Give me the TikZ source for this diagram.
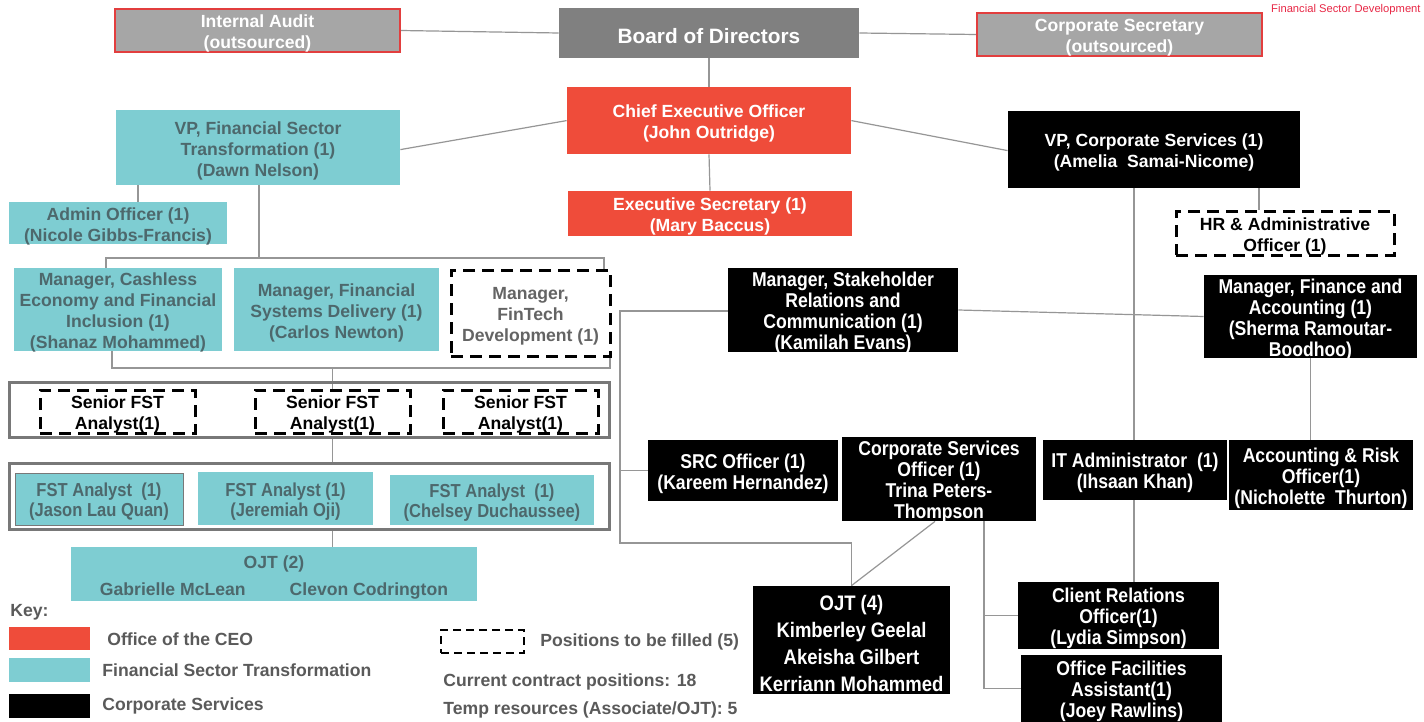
\documentclass[tikz,border=0pt]{standalone}
\usepackage{fontspec}
\setmainfont{Liberation Sans}
\newfontfamily\narrowf{Liberation Sans}[FakeStretch=0.88]
\usetikzlibrary{calc,backgrounds}
\definecolor{cred}{RGB}{239,76,58}
\definecolor{cteal}{RGB}{126,205,210}
\definecolor{ctealtxt}{RGB}{77,104,108}
\definecolor{cboard}{RGB}{128,128,128}
\definecolor{cout}{RGB}{166,166,166}
\definecolor{coutline}{RGB}{226,62,62}
\definecolor{cline}{RGB}{150,150,150}
\definecolor{cgrp}{RGB}{120,120,120}
\definecolor{ckey}{RGB}{90,90,90}
\definecolor{cfin}{RGB}{100,100,100}
\definecolor{cfsd}{RGB}{232,40,70}
\tikzset{
  base/.style={inner sep=0pt, align=center, font=\bfseries\fontsize{8.8pt}{10.5pt}\selectfont},
  redbox/.style={base, fill=cred, text=white},
  tealbox/.style={base, fill=cteal, text=ctealtxt},
  blkbox/.style={base, fill=black, text=white},
  narrowtxt/.style={font=\narrowf\bfseries\fontsize{10pt}{10.5pt}\selectfont},
  fsttxt/.style={font=\narrowf\bfseries\fontsize{9.4pt}{10pt}\selectfont},
  outbox/.style={base, fill=cout, draw=coutline, line width=0.8pt, text=white},
  dashbox/.style={base, draw=black, line width=1.5pt, dash pattern=on 6pt off 3.5pt},
  grpbox/.style={draw=cgrp, line width=1.5pt, inner sep=0pt},
  conn/.style={draw=cline, line width=0.6pt},
  keytxt/.style={anchor=west, inner sep=0pt, text=ckey, font=\bfseries\fontsize{8.8pt}{10.5pt}\selectfont},
}
% box #1 from (#2,#3) to (#4,#5), style #6, text #7 (text set 3px lower than the box centre)
\newcommand\orgbox[7]{%
  \node[#6, minimum width={(#4-#2)*0.5pt}, minimum height={(#5-#3)*0.5pt}] (#1) at ({(#2+#4)/2},{(#3+#5)/2}) {};
  \node[#6, draw=none, fill=none] (#1-t) at ({(#2+#4)/2},{(#3+#5)/2+3}) {#7};}
\begin{document}
\begin{tikzpicture}[x=0.5pt,y=-0.5pt]
\useasboundingbox (0,0) rectangle (1424,722);
% top
\orgbox{bod}{559}{8}{859}{58}{base, fill=cboard, text=white, font=\bfseries\fontsize{10.4pt}{12pt}\selectfont}{Board of Directors}
\orgbox{ia}{115}{9}{400}{52}{outbox}{Internal Audit\\(outsourced)}
\orgbox{cs}{977}{13}{1262}{56}{outbox}{Corporate Secretary\\(outsourced)}
\node[anchor=north east, inner sep=0pt, text=cfsd, font=\fontsize{5.6pt}{6pt}\selectfont] (fsd) at (1421,4) {Financial Sector Development};
\orgbox{ceo}{567}{87}{851}{154}{redbox}{Chief Executive Officer\\(John Outridge)}
\orgbox{es}{568}{191}{852}{236}{redbox}{Executive Secretary (1)\\(Mary Baccus)}
\orgbox{vpfst}{116}{110}{400}{185}{tealbox}{VP, Financial Sector\\Transformation (1)\\(Dawn Nelson)}
\orgbox{vpcs}{1008}{111}{1300}{188}{blkbox}{VP, Corporate Services (1)\\(Amelia\ \ Samai-Nicome)}
\orgbox{admin}{9}{202}{227}{244}{tealbox}{Admin Officer (1)\\(Nicole Gibbs-Francis)}
\orgbox{hr}{1176}{211}{1394}{255}{dashbox}{HR \& Administrative\\Officer (1)}
% FST managers
\orgbox{mgrc}{14}{268}{222}{351}{tealbox}{Manager, Cashless\\Economy and Financial\\Inclusion (1)\\(Shanaz Mohammed)}
\orgbox{mgrf}{234}{268}{439}{351}{tealbox}{Manager, Financial\\Systems Delivery (1)\\(Carlos Newton)}
\orgbox{fintech}{451}{270}{610}{356}{dashbox, text=cfin}{Manager,\\FinTech\\Development (1)}
% CS managers
\orgbox{stk}{728}{268}{958}{352}{blkbox,narrowtxt}{Manager, Stakeholder\\Relations and\\Communication (1)\\(Kamilah Evans)}
\orgbox{fin}{1204}{275}{1417}{358}{blkbox,narrowtxt}{Manager, Finance and\\Accounting (1)\\(Sherma Ramoutar-\\Boodhoo)}
% senior analysts
\orgbox{sengrp}{9}{382}{609}{437}{grpbox}{}
\orgbox{sen1}{40}{390}{195}{433}{dashbox}{Senior FST\\Analyst(1)}
\orgbox{sen2}{255}{390}{410}{433}{dashbox}{Senior FST\\Analyst(1)}
\orgbox{sen3}{443}{390}{598}{433}{dashbox}{Senior FST\\Analyst(1)}
% CS officers
\orgbox{src}{648}{440}{838}{501}{blkbox,narrowtxt}{SRC Officer (1)\\(Kareem Hernandez)}
\orgbox{cso}{842}{437}{1036}{521}{blkbox,narrowtxt}{Corporate Services\\Officer (1)\\Trina Peters-\\Thompson}
\orgbox{ita}{1043}{440}{1227}{500}{blkbox,narrowtxt}{IT Administrator\ \ (1)\\(Ihsaan Khan)}
\orgbox{ars}{1229}{440}{1413}{510}{blkbox,narrowtxt}{Accounting \& Risk\\Officer(1)\\(Nicholette\ \ Thurton)}
% FST analysts
\orgbox{fstgrp}{9}{463}{609}{529}{grpbox}{}
\orgbox{fa1}{15}{473}{183}{525}{tealbox, fsttxt, draw=cgrp, line width=0.5pt}{FST Analyst\ \ (1)\\(Jason Lau Quan)}
\orgbox{fa2}{198}{472}{373}{525}{tealbox, fsttxt}{FST Analyst (1)\\(Jeremiah Oji)}
\orgbox{fa3}{390}{475}{594}{525}{tealbox, fsttxt}{FST Analyst\ \ (1)\\(Chelsey Duchaussee)}
\orgbox{ojt2}{71}{547}{477}{601}{tealbox, font=\bfseries\fontsize{8.8pt}{13.5pt}\selectfont}{OJT (2)\\Gabrielle McLean\hspace{22pt}Clevon Codrington}
% CS lower
\orgbox{ojt4}{753}{586}{950}{694}{blkbox, font=\narrowf\bfseries\fontsize{10.5pt}{13.5pt}\selectfont}{OJT (4)\\Kimberley Geelal\\Akeisha Gilbert\\Kerriann Mohammed}
\orgbox{cr}{1018}{582}{1219}{649}{blkbox,narrowtxt}{Client Relations\\Officer(1)\\(Lydia Simpson)}
\orgbox{ofa}{1021}{655}{1222}{722}{blkbox,narrowtxt}{Office Facilities\\Assistant(1)\\(Joey Rawlins)}
% key
\node[keytxt] (keyt) at (10,612) {Key:};
\orgbox{k1}{9}{627}{90}{650}{base, fill=cred}{}
\orgbox{k2}{9}{658}{90}{682}{base, fill=cteal}{}
\orgbox{k3}{9}{694}{90}{718}{base, fill=black}{}
\node[keytxt] (k1t) at (107,639) {Office of the CEO};
\node[keytxt] (k2t) at (102,670) {Financial Sector Transformation};
\node[keytxt] (k3t) at (102,706) {Corporate Services};
\orgbox{k4}{441}{630}{524}{653}{base, draw=black, line width=0.9pt, dash pattern=on 4pt off 2.5pt}{}
\node[keytxt] (k4t) at (540,642) {Positions to be filled (5)};
\node[keytxt] (n1) at (443,682) {Current contract positions: 18};
\node[keytxt] (n2) at (443,710) {Temp resources (Associate/OJT): 5};
% connectors
\coordinate (busT) at (259,258);
\coordinate (busL) at (106,258);
\coordinate (busR) at (604,258);
\coordinate (bus2L) at (112,368);
\coordinate (bus2R) at (610,368);
\coordinate (sTop) at (620,311);
\coordinate (sBot) at (620,543);
\coordinate (vx) at (1134,0);
\coordinate (hx) at (1259,0);
\coordinate (cx) at (984,0);
\coordinate (ax) at (138,0);
\coordinate (dx) at (935,0);
\begin{scope}[on background layer]
\fill[white] (0,0) rectangle (1424,722);
\draw[conn] (ia.east) -- (bod.west);
\draw[conn] (bod.east) -- (cs.west);
\draw[conn] (bod.south) -- (ceo.north);
\draw[conn] (ceo.south) -- (es.north);
\draw[conn] ($(ceo.north west)+(0,34)$) -- ($(vpfst.north east)+(0,40)$);
\draw[conn] ($(ceo.north east)+(0,34)$) -- ($(vpcs.north west)+(0,40)$);
\draw[conn] (vpfst.south -| ax) -- (admin.north -| ax);
\draw[conn] (vpfst.south -| busT) -- (busT);
\draw[conn] (mgrc.north -| busL) -- (busL) -- (busR) -- (fintech.north -| busR);
\draw[conn] (mgrc.south -| bus2L) -- (bus2L) -- (bus2R) -- (fintech.south -| bus2R);
\draw[conn] (sen2.north |- bus2L) -- (sen2.north);
\draw[conn] (sen2.south |- sengrp.south) -- (sen2.south |- fstgrp.north);
\draw[conn] (sen2.south |- fstgrp.south) -- (sen2.south |- ojt2.north);
\draw[conn] (vpcs.south -| vx) -- (cr.north -| vx);
\draw[conn] (vpcs.south -| hx) -- (hr.north -| hx);
\draw[conn] (stk.east) -- (fin.west);
\draw[conn] (stk.west |- sTop) -- (sTop) -- (sBot) -- (sBot -| ojt4.north) -- (ojt4.north);
\draw[conn] (src.west) -- (src.west -| sTop);
\draw[conn] (ojt4.north) -- (cso.south -| dx);
\draw[conn] (cso.south -| cx) -- (ofa.west -| cx) -- (ofa.west);
\draw[conn] (cr.west -| cx) -- (cr.west);
\draw[conn] (fin.south) -- (fin.south |- ars.north);
\end{scope}
\end{tikzpicture}
\end{document}
